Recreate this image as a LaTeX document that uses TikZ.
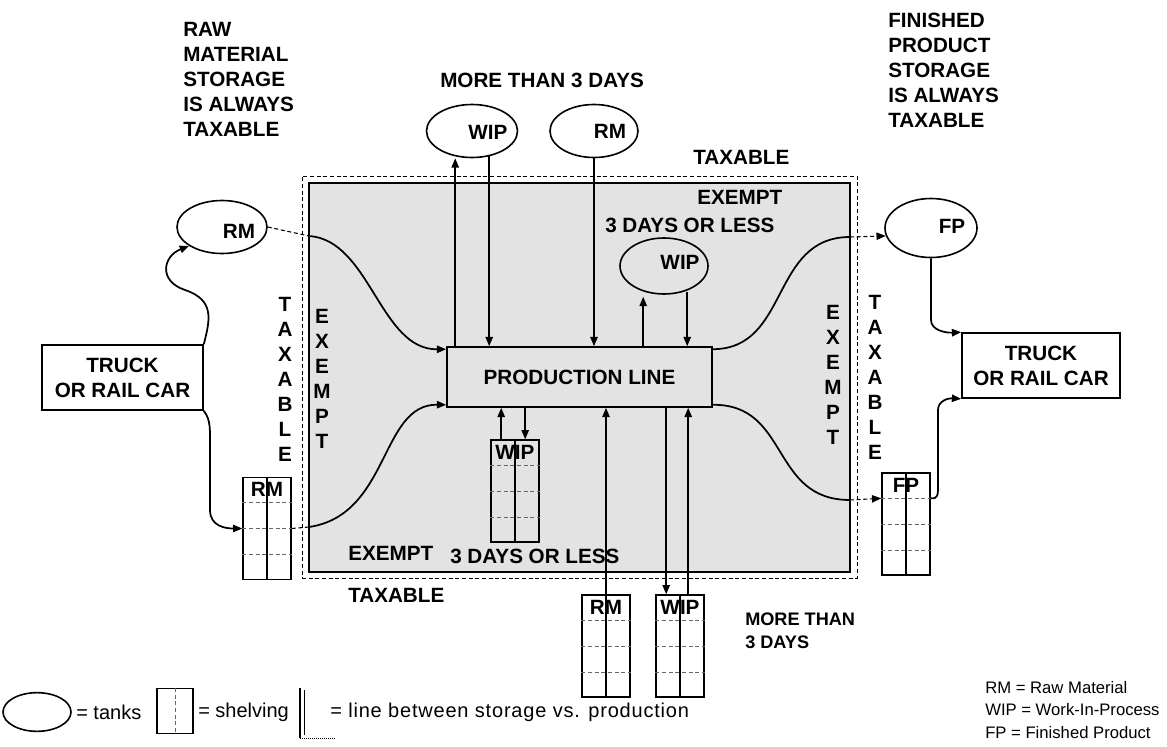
\documentclass[tikz,border=0pt]{standalone}
\usepackage{fontspec}
\setmainfont{Liberation Sans}
\usetikzlibrary{arrows.meta,shapes.geometric,calc}
\newcommand\drawshelf[4]{%
  \node[shelfbox,#4] (#1) at (#2) {};
  \draw[shelfdiv] (#1.north) -- (#1.south);
  \foreach \rr in {0.25,0.5,0.75}{\draw[shelfrow] ($(#1.north west)!\rr!(#1.south west)$) -- ($(#1.north east)!\rr!(#1.south east)$);}
  \node[lab] at ($(#1.north)+(0,13)$) {#3};
}
\begin{document}
\begin{tikzpicture}[x=0.75pt,y=-0.75pt,
  lab/.style={font=\bfseries\fontsize{15.5}{18.75}\selectfont, inner sep=0pt},
  vlab/.style={lab, align=center},
  leg/.style={font=\fontsize{15}{17}\selectfont, inner sep=0pt, anchor=west},
  leg2/.style={font=\fontsize{12.5}{15}\selectfont, inner sep=0pt, anchor=west},
  tank/.style={ellipse, draw, line width=1.2pt, inner sep=0pt},
  shelfbox/.style={draw, line width=1pt, minimum width=36pt, minimum height=76.5pt, inner sep=0pt},
  shelfdiv/.style={line width=0.8pt},
  shelfrow/.style={line width=0.5pt, densely dashed, black!60},
  boxnode/.style={draw, line width=1.2pt, inner sep=0pt, align=center, font=\bfseries\fontsize{15.5}{18.75}\selectfont},
  flow/.style={line width=1.3pt, -{Triangle[length=7pt,width=5.5pt]}},
  plain/.style={line width=1.3pt},
  link/.style={line width=0.8pt, densely dashed},
  linktip/.style={line width=0.8pt, densely dashed, -{Triangle[length=7pt,width=5.5pt]}}
]
\useasboundingbox (0,0) rectangle (1167,746);

% boundary zones
\node[draw, line width=0.6pt, densely dashed, minimum width=416.25pt, minimum height=301.5pt, inner sep=0pt] (outer) at (579.5,377) {};
\node[draw, fill=black!11, line width=1.6pt, minimum width=405.75pt, minimum height=291.75pt, inner sep=0pt] (zone) at (579.5,377.5) {};

% production line
\node[boxnode, fill=black!11, minimum width=198.75pt, minimum height=45pt] (prod) at (579.5,377) {PRODUCTION LINE};

% trucks
\node[boxnode, fill=white, minimum width=120.75pt, minimum height=48.75pt] (trL) at (122.5,377.5) {TRUCK\\OR RAIL CAR};
\node[boxnode, fill=white, minimum width=118.5pt, minimum height=48.75pt] (trR) at (1041,365.5) {TRUCK\\OR RAIL CAR};

% tanks
\node[tank, minimum width=67.5pt, minimum height=39.75pt] (rmL) at (222,227) {};
\node[lab] (rmLt) at (239,231) {RM};
\node[tank, minimum width=68.25pt, minimum height=39.75pt] (wipT) at (472,131) {};
\node[lab] (wipTt) at (488,132) {WIP};
\node[tank, minimum width=66pt, minimum height=39.75pt] (rmT) at (594,131) {};
\node[lab] (rmTt) at (610,131) {RM};
\node[tank, minimum width=66pt, minimum height=42pt] (wipI) at (664,266) {};
\node[lab] (wipIt) at (680,262) {WIP};
\node[tank, minimum width=69pt, minimum height=44.25pt] (fpT) at (931,228) {};
\node[lab] (fpTt) at (952,226) {FP};

% shelving
\drawshelf{shRM}{267,528.5}{RM}{fill=white}
\drawshelf{shWIP}{515,491}{WIP}{}
\drawshelf{shRMb}{606,646}{RM}{fill=white}
\drawshelf{shWIPb}{680,646}{WIP}{fill=white}
\drawshelf{shFP}{906,524}{FP}{fill=white}

% labels
\node[lab, anchor=north west, align=left] (rawlab) at (183,22) {RAW\\MATERIAL\\STORAGE\\IS ALWAYS\\TAXABLE};
\node[lab, anchor=north west, align=left] (finlab) at (888,13) {FINISHED\\PRODUCT\\STORAGE\\IS ALWAYS\\TAXABLE};
\node[lab, anchor=west] (more1) at (440,80.5) {MORE THAN 3 DAYS};
\node[lab, anchor=west] (taxT) at (693,157.5) {TAXABLE};
\node[lab, anchor=west] (exT) at (697,197.5) {EXEMPT};
\node[lab, anchor=west] (lessT) at (605,225.5) {3 DAYS OR LESS};
\node[lab, anchor=west] (exB) at (348,553.5) {EXEMPT};
\node[lab, anchor=west] (lessB) at (450,556.5) {3 DAYS OR LESS};
\node[lab, anchor=west] (taxB) at (348,595) {TAXABLE};
\node[vlab] (taxL) at (285,379.5) {T\\A\\X\\A\\B\\L\\E};
\node[vlab] (exL) at (322,379) {E\\X\\E\\M\\P\\T};
\node[vlab] (exR) at (833,375) {E\\X\\E\\M\\P\\T};
\node[vlab] (taxR) at (875,377) {T\\A\\X\\A\\B\\L\\E};
\node[lab, anchor=north west, align=left, font=\bfseries\fontsize{13.6}{17.25}\selectfont] (more2) at (745,613) {MORE THAN\\3 DAYS};

% crossing points on the boundary
\coordinate (b1) at (309,236);
\coordinate (b2) at (309,527);
\coordinate (b3) at (850,237);
\coordinate (b4) at (850,500);

% flows into production line
\draw[link] (rmL.east) -- (b1);
\draw[flow] (b1) .. controls (370,240) and (380,350) .. ($(prod.north west)+(0,3)$);
\draw[link] (shRM.east) -- (b2);
\draw[flow] (b2) .. controls (390,515) and (380,404) .. ($(prod.south west)+(0,-3)$);

% flows out of production line
\draw[plain] ($(prod.north east)+(0,3)$) .. controls (790,349) and (770,237) .. (b3);
\draw[linktip] (b3) -- (fpT.190);
\draw[plain] ($(prod.south east)+(0,-3)$) .. controls (790,404) and (770,500) .. (b4);
\draw[linktip] (b4) -- ($(shFP.north west)+(0,26)$);

% truck connections
\draw[flow] (trL.north east) .. controls (210,320) and (215,300) .. (185,290) .. controls (158,281) and (163,256) .. (rmL.210);
\draw[flow] (trL.south east) .. controls (211,420) and (210,430) .. (210,450) -- (210,510) .. controls (210,526) and (225,528.5) .. (shRM.west);
\draw[flow] (fpT.south) -- (931,320) .. controls (931,330) and (945,333) .. (trR.north west);
\coordinate (fpRow) at ($(shFP.north east)+(0,26)$);
\draw[flow] (fpRow) .. controls (938,499) and (938,495) .. (938,485) -- (938,410) .. controls (938,401) and (948,398) .. (trR.south west);

% vertical exchanges
\coordinate (u2) at ($(prod.north west)+(9,0)$);
\coordinate (d2) at ($(prod.north west)+(43,0)$);
\draw[flow] (u2) -- (wipT.south -| u2);
\draw[flow] ($(wipT.south -| d2)+(0,-2)$) -- (d2);
\draw[flow] (rmT.south) -- (prod.north -| rmT.south);
\coordinate (u3) at ($(prod.north west)+(197,0)$);
\coordinate (d3) at ($(prod.north west)+(241,0)$);
\draw[flow] (u3) -- ($(wipI.south -| u3)+(0,2)$);
\draw[flow] ($(wipI.south -| d3)+(0,-3)$) -- (d3);
\coordinate (u1) at ($(prod.south west)+(55,0)$);
\coordinate (d1) at ($(prod.south west)+(79,0)$);
\draw[flow] (shWIP.north -| u1) -- (u1);
\draw[flow] (d1) -- (shWIP.north -| d1);
\draw[flow] (shRMb.north) -- (prod.south -| shRMb.north);
\coordinate (d4) at ($(prod.south west)+(220,0)$);
\coordinate (u4) at ($(prod.south west)+(242,0)$);
\draw[flow] (d4) -- (shWIPb.north -| d4);
\draw[flow] (shWIPb.north -| u4) -- (u4);

% legend
\node[tank, minimum width=51pt, minimum height=29pt] (lgTank) at (37,712) {};
\node[leg] (lgTankT) at (76,712) {= tanks};
\node[draw, line width=0.8pt, minimum width=27pt, minimum height=33.75pt, inner sep=0pt] (lgShelf) at (175,711) {};
\draw[shelfrow] (lgShelf.north) -- (lgShelf.south);
\node[leg] (lgShelfT) at (198,712) {= shelving};
\coordinate (lgA) at (300,688);
\coordinate (lgB) at (300,738);
\coordinate (lgC) at (336,738);
\coordinate (lgA2) at (304,690);
\coordinate (lgB2) at (304,735);
\draw[line width=1.3pt] (lgA) -- (lgB);
\draw[line width=0.4pt] (lgA2) -- (lgB2);
\draw[line width=0.5pt, densely dotted] (lgB) -- (lgC);
\node[leg, font=\fontsize{15}{17}\selectfont\addfontfeature{LetterSpace=4}] (lgLineT) at (330,712) {= line between storage vs. production};
\node[leg2] (k1) at (985,688) {RM = Raw Material};
\node[leg2] (k2) at (985,710) {WIP = Work-In-Process};
\node[leg2] (k3) at (985,733) {FP = Finished Product};
\end{tikzpicture}
\end{document}
